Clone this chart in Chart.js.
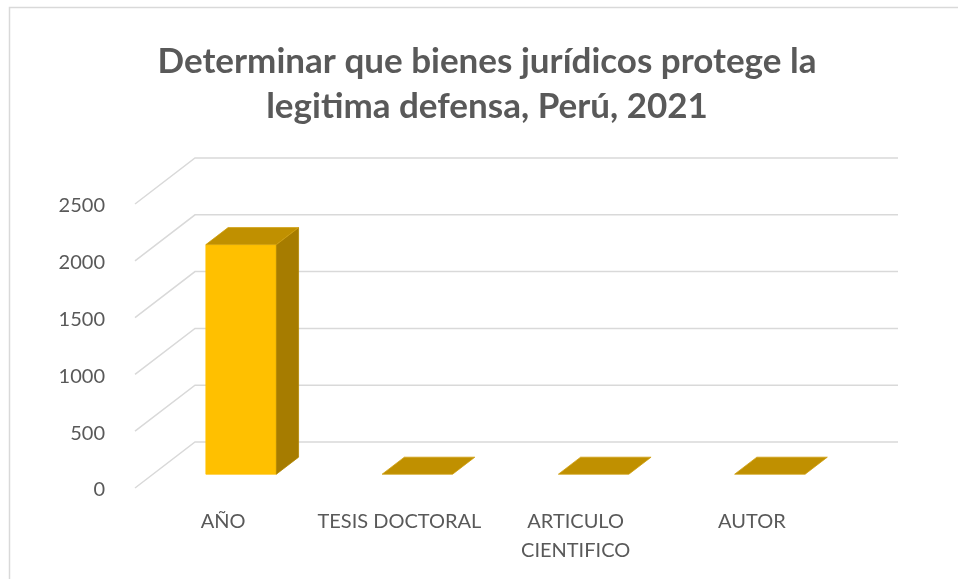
<!DOCTYPE html>
<html>
<head>
<meta charset="utf-8">
<script src="https://cdn.jsdelivr.net/npm/chart.js@4"></script>
<style>
  html, body { margin: 0; padding: 0; background: #fff; }
  #wrap { width: 958px; height: 579px; }
</style>
</head>
<body>
<div id="wrap"><canvas id="chart" width="958" height="579"></canvas></div>
<script>
// datos del gráfico
const categories = ['AÑO', 'TESIS DOCTORAL', ['ARTICULO', 'CIENTIFICO'], 'AUTOR'];
const values = [2021, 0, 0, 0];
const yMax = 2500;
const yStep = 500;
const titleLines = ['Determinar que bienes jurídicos protege la', 'legitima defensa, Perú, 2021'];

// efecto 3D (perspectiva tipo Excel)
const depthX = 60, depthY = -46;
const frontF = 0.30, backF = 0.67;

const fake3d = {
  id: 'fake3d',
  beforeDatasetsDraw(chart) {
    const ctx = chart.ctx;
    const area = chart.chartArea;
    const yScale = chart.scales.y;
    ctx.save();
    // borde del gráfico
    ctx.strokeStyle = '#D9D9D9';
    ctx.lineWidth = 1.5;
    ctx.beginPath();
    ctx.moveTo(9.5, 580);
    ctx.lineTo(9.5, 7.5);
    ctx.lineTo(960, 7.5);
    ctx.stroke();
    // líneas de la pared y el costado
    yScale.ticks.forEach(t => {
      const yv = yScale.getPixelForValue(t.value);
      ctx.beginPath();
      ctx.moveTo(area.left, yv);
      ctx.lineTo(area.left + depthX, yv + depthY);
      ctx.lineTo(area.right + depthX - 2, yv + depthY);
      ctx.stroke();
    });
    // título
    ctx.fillStyle = '#595959';
    ctx.font = 'bold 35px Lato';
    ctx.textAlign = 'center';
    ctx.textBaseline = 'middle';
    titleLines.forEach((line, i) => ctx.fillText(line, 487, 62 + i * 45));
    ctx.restore();
  },
  afterDatasetsDraw(chart) {
    const ctx = chart.ctx;
    const meta = chart.getDatasetMeta(0);
    const ddx = (backF - frontF) * depthX, ddy = (backF - frontF) * depthY;
    ctx.save();
    ctx.lineWidth = 0.8;
    meta.data.forEach(bar => {
      const x0 = bar.x - bar.width / 2 + frontF * depthX;
      const x1 = bar.x + bar.width / 2 + frontF * depthX;
      const yTop = bar.y + frontF * depthY;
      const yBot = bar.base + frontF * depthY;
      const poly = (pts, fill, stroke) => {
        ctx.beginPath();
        ctx.moveTo(pts[0][0], pts[0][1]);
        pts.slice(1).forEach(p => ctx.lineTo(p[0], p[1]));
        ctx.closePath();
        ctx.fillStyle = fill;
        ctx.fill();
        ctx.strokeStyle = stroke;
        ctx.stroke();
      };
      if (yBot - yTop > 0.5) {
        poly([[x0, yTop], [x1, yTop], [x1, yBot], [x0, yBot]], '#FFC000', '#FFC000');
        poly([[x1, yTop], [x1 + ddx, yTop + ddy], [x1 + ddx, yBot + ddy], [x1, yBot]], '#A67C00', '#B38600');
      }
      poly([[x0, yTop], [x0 + ddx, yTop + ddy], [x1 + ddx, yTop + ddy], [x1, yTop]], '#C09000', '#D0A010');
    });
    ctx.restore();
  }
};

new Chart(document.getElementById('chart'), {
  type: 'bar',
  data: {
    labels: categories,
    datasets: [{
      data: values,
      backgroundColor: 'rgba(0,0,0,0)',
      borderWidth: 0,
      barPercentage: 0.4,
      categoryPercentage: 1
    }]
  },
  options: {
    responsive: false,
    animation: false,
    layout: { padding: { left: 0, right: 118, top: 204, bottom: 0 } },
    plugins: {
      legend: { display: false },
      tooltip: { enabled: false },
      title: { display: false }
    },
    scales: {
      x: {
        grid: { display: false },
        border: { display: false },
        ticks: {
          color: '#595959',
          font: { family: 'Lato', size: 20, lineHeight: 1.45 },
          padding: 11,
          maxRotation: 0,
          autoSkip: false
        },
        afterFit: s => { s.height = 91; }
      },
      y: {
        min: 0,
        max: yMax,
        grid: { display: false },
        border: { display: false },
        ticks: {
          stepSize: yStep,
          color: '#595959',
          font: { family: 'Lato', size: 20 },
          padding: 22,
          labelOffset: 2,
          callback: v => String(v)
        },
        afterFit: s => { s.width = 135; }
      }
    }
  },
  plugins: [fake3d]
});
</script>
</body>
</html>
